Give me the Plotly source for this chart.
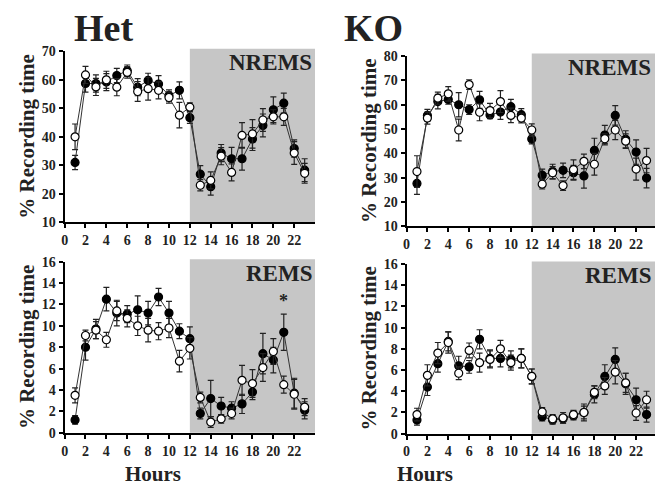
import plotly.graph_objects as go

hours = list(range(1, 24))
x_ticks = list(range(0, 24, 2))

# Het NREMS
het_nrems_filled = [31, 58.7, 58.7, 59.2, 61.5, 63.2, 57.4, 59.8, 58.5, 54.5, 56.3, 46.7,
                    26.9, 22.5, 34.3, 32.3, 32.3, 39.2, 44.0, 49.5, 51.8, 35.9, 28.3]
het_nrems_filled_err = [2.5, 3, 3, 3, 2.5, 2, 3, 2.5, 3, 2, 3, 2,
                        3, 3, 3, 4, 4, 4, 4, 4.5, 3.5, 3, 4]
het_nrems_open = [40, 61.7, 57.5, 60, 57.4, 62.6, 55.9, 56.9, 56.3, 53.8, 47.6, 50.4,
                  23.0, 24.7, 33.2, 27.5, 40.5, 41, 45.9, 47, 47, 34.3, 27.2]
het_nrems_open_err = [4.5, 3, 3, 3, 3, 2, 3.5, 4, 3, 2, 4.5, 1.5,
                      2, 3, 3, 3, 4.5, 5, 4, 2.5, 3, 4, 3.5]

# Het REMS
het_rems_filled = [1.2, 8.0, 9.7, 12.5, 11.2, 11.1, 11.5, 11.2, 12.7, 11.2, 9.5, 8.8,
                   1.8, 3.2, 2.5, 2.3, 2.7, 3.8, 7.4, 6.8, 9.4, 3.7, 2.1]
het_rems_filled_err = [0.4, 1.2, 0.9, 1.1, 1.2, 0.8, 1.3, 1.1, 0.8, 1.1, 0.7, 1.1,
                       0.5, 1.7, 0.8, 0.6, 0.9, 0.7, 1.9, 1.2, 1.7, 1.4, 0.8]
het_rems_open = [3.5, 9.1, 9.6, 8.7, 11.4, 10.7, 10.0, 9.6, 9.5, 9.8, 6.7, 7.9,
                 3.3, 1.0, 1.3, 1.8, 4.9, 4.6, 6.1, 7.6, 4.5, 3.6, 2.4]
het_rems_open_err = [0.7, 0.5, 0.8, 0.7, 0.9, 0.8, 0.9, 1.1, 0.8, 0.9, 1.0, 1.0,
                     0.5, 0.5, 0.4, 0.5, 1.4, 1.3, 1.3, 1.2, 0.8, 1.4, 0.8]

# KO NREMS
ko_nrems_filled = [27.6, 55.6, 61.3, 62.2, 60.0, 58.0, 62.0, 55.8, 57.0, 59.2, 55.9, 45.9,
                   31.0, 32.5, 33.0, 32.0, 30.7, 41.2, 47.5, 55.6, 45.8, 40.5, 29.8]
ko_nrems_filled_err = [4.5, 2.5, 3, 2, 5, 2, 3.5, 1.5, 3, 3, 2.5, 2,
                       2.5, 3, 3, 3, 5, 5, 4, 4, 3.5, 5, 4]
ko_nrems_open = [32.5, 54.5, 62.7, 64.5, 49.6, 68.3, 56.9, 57.6, 61.3, 55.6, 54.5, 49.6,
                 27.3, 32.0, 26.7, 33.3, 36.7, 35.5, 46.0, 49.6, 45.0, 33.5, 37.0]
ko_nrems_open_err = [6.5, 2.5, 2.5, 3, 4.5, 2, 3.5, 3, 4.5, 3, 2, 2.5,
                     2, 2.5, 2, 4, 3, 4.5, 2, 4, 3, 4.5, 5]

# KO REMS
ko_rems_filled = [1.3, 4.4, 6.6, 8.7, 6.4, 6.3, 8.9, 7.1, 7.1, 7.0, 7.1, 5.4,
                  1.6, 1.3, 1.4, 1.7, 2.0, 3.7, 5.4, 7.0, 4.7, 3.2, 1.8]
ko_rems_filled_err = [0.5, 0.8, 0.8, 0.9, 0.9, 0.6, 0.9, 0.8, 0.8, 0.8, 0.9, 0.7,
                      0.4, 0.4, 0.4, 0.4, 0.8, 0.8, 1.1, 1.1, 1.0, 1.1, 0.7]
ko_rems_open = [1.8, 5.5, 7.6, 8.6, 5.7, 7.85, 6.7, 7.0, 8.0, 6.7, 7.1, 5.4,
                2.05, 1.4, 1.5, 1.8, 2.0, 3.9, 4.5, 5.8, 4.8, 1.95, 3.2]
ko_rems_open_err = [0.6, 1.0, 1.0, 1.0, 0.6, 0.7, 0.9, 0.8, 0.8, 0.7, 0.9, 0.7,
                    0.4, 0.4, 0.5, 0.4, 0.6, 0.6, 0.8, 1.1, 0.9, 0.7, 0.8]

SERIF = "Liberation Serif, Times New Roman, serif"
W, H = 655, 496


def px(xp):
    return xp / W


def py(yp):
    return 1 - yp / H


panels = [
    ("x", "y", het_nrems_filled, het_nrems_filled_err, het_nrems_open, het_nrems_open_err,
     [10, 70], 10, (61, 313), (45.7, 222), "NREMS"),
    ("x2", "y2", het_rems_filled, het_rems_filled_err, het_rems_open, het_rems_open_err,
     [0, 16], 2, (61, 313), (262.7, 439), "REMS"),
    ("x3", "y3", ko_nrems_filled, ko_nrems_filled_err, ko_nrems_open, ko_nrems_open_err,
     [10, 80], 10, (405, 657), (50.7, 226), "NREMS"),
    ("x4", "y4", ko_rems_filled, ko_rems_filled_err, ko_rems_open, ko_rems_open_err,
     [0, 16], 2, (405, 657), (265, 440), "REMS"),
]

fig = go.Figure()
layout = {}
shapes = []
annotations = []

for xa, ya, f, fe, o, oe, yr, dt, xd, yd, lab in panels:
    for vals, errs, fill in ((f, fe, "black"), (o, oe, "white")):
        fig.add_trace(go.Scatter(
            x=hours, y=vals, xaxis=xa, yaxis=ya, mode="lines+markers",
            line=dict(color="#333333", width=1),
            marker=dict(size=8, color=fill, line=dict(color="black", width=1.2)),
            error_y=dict(type="data", array=errs, visible=True, color="#222222",
                         thickness=1.2, width=3),
            showlegend=False, cliponaxis=False, hoverinfo="skip",
        ))
    xkey = "xaxis" + xa[1:]
    ykey = "yaxis" + ya[1:]
    right = min(xd[1], W)
    layout[xkey] = dict(
        domain=[px(xd[0]), px(right)],
        range=[0, 24 * (right - xd[0]) / (xd[1] - xd[0])],
        anchor=ya,
        tickvals=x_ticks, ticks="outside", ticklen=4, tickwidth=1.5, tickcolor="black",
        showline=True, linecolor="black", linewidth=2, showgrid=False, zeroline=False,
        tickfont=dict(family=SERIF, size=14, color="#222222", weight="bold"),
    )
    layout[ykey] = dict(
        domain=[py(yd[1]), py(yd[0])], range=yr, anchor=xa, dtick=dt,
        tick0=yr[0], ticks="outside", ticklen=4, tickwidth=1.5, tickcolor="black",
        showline=True, linecolor="black", linewidth=2, showgrid=False, zeroline=False,
        tickfont=dict(family=SERIF, size=14, color="#222222", weight="bold"),
    )
    shapes.append(dict(type="rect", xref=xa, yref=ya + " domain", x0=12, x1=24,
                       y0=0, y1=1.015, fillcolor="#c6c6c6", line=dict(width=0),
                       layer="below"))
    annotations.append(dict(
        text=lab, xref="paper", yref="paper", x=px(min(xd[1], W - 1) - 1), y=py(yd[0] + 12),
        xanchor="right", yanchor="middle", showarrow=False,
        font=dict(family=SERIF, size=23, color="#222222", weight="bold")))
    annotations.append(dict(
        text="% Recording time", xref="paper", yref="paper",
        x=px(xd[0] - 38), y=py((yd[0] + yd[1]) / 2), textangle=-90,
        xanchor="center", yanchor="middle", showarrow=False,
        font=dict(family=SERIF, size=21, color="#222222", weight="bold")))

annotations.append(dict(text="Het", xref="paper", yref="paper", x=px(100), y=py(22),
                        showarrow=False, xanchor="center", yanchor="middle",
                        font=dict(family=SERIF, size=38, color="#222222", weight="bold")))
annotations.append(dict(text="KO", xref="paper", yref="paper", x=px(372), y=py(22),
                        showarrow=False, xanchor="center", yanchor="middle",
                        font=dict(family=SERIF, size=38, color="#222222", weight="bold")))
for cx in (150, 424):
    annotations.append(dict(text="Hours", xref="paper", yref="paper", x=px(cx), y=py(482),
                            showarrow=False, xanchor="center", yanchor="middle",
                            font=dict(family=SERIF, size=21, color="#222222", weight="bold")))
annotations.append(dict(text="*", xref="x2", yref="y2", x=21, y=12.3, showarrow=False,
                        xanchor="center", yanchor="middle",
                        font=dict(family=SERIF, size=18, color="#222222", weight="bold")))

fig.update_layout(
    width=W, height=H, margin=dict(l=0, r=0, t=0, b=0),
    paper_bgcolor="white", plot_bgcolor="white",
    shapes=shapes, annotations=annotations, **layout,
)

fig.write_html(
    "out.html",
    config={"displayModeBar": False},
    post_script="document.body.style.margin='0';document.body.style.overflow='hidden';",
)
